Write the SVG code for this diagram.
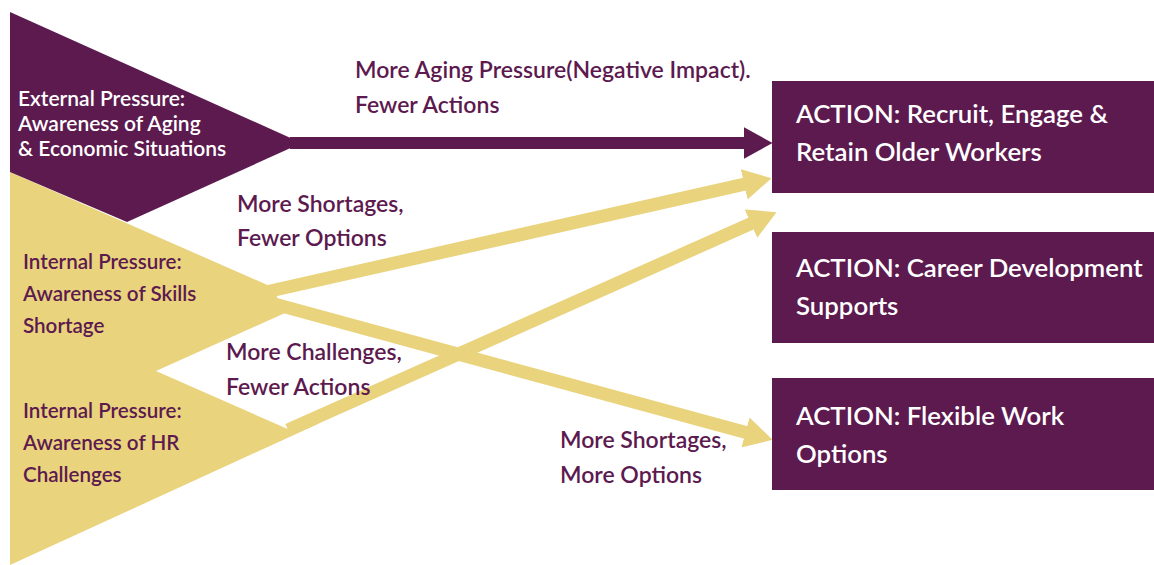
<svg xmlns="http://www.w3.org/2000/svg" width="1154" height="565" viewBox="0 0 1154 565">
<style>
.box{fill:#5C1A4F}
.pur{fill:#5C1A4F}
.yel{fill:#E9D37D}
.t{font-family:Lato,"Liberation Sans",sans-serif;font-weight:600}
.wt{fill:#FFFFFF;font-size:21px}
.pt{fill:#5C1A4F;font-size:20.6px}
.lbl{fill:#5C1A4F;font-size:23px}
.bt{fill:#FFFFFF;font-size:25.8px}
.ly{stroke:#E9D37D;stroke-width:13;fill:none}
.lp{stroke:#5C1A4F;stroke-width:12;fill:none}
</style>
<defs>
<marker id="ahp" markerUnits="userSpaceOnUse" viewBox="0 0 29 32" markerWidth="29" markerHeight="32" refX="0.5" refY="16" orient="auto">
<path d="M0,0 L29,16 L0,32 z" fill="#5C1A4F"/>
</marker>
<marker id="ahy" markerUnits="userSpaceOnUse" viewBox="0 0 28 31" markerWidth="28" markerHeight="31" refX="0.5" refY="15.5" orient="auto">
<path d="M0,0 L28,15.5 L0,31 z" fill="#E9D37D"/>
</marker>
</defs>

<g id="internal-pressures">
<polygon class="yel" points="10,172 272,287 285,313 156,371 290,430 320,423 10,565"/>
<text class="t pt" x="23" y="269">Internal Pressure:</text>
<text class="t pt" x="23" y="301">Awareness of Skills</text>
<text class="t pt" x="23" y="333">Shortage</text>
<text class="t pt" x="23" y="418">Internal Pressure:</text>
<text class="t pt" x="23" y="450">Awareness of HR</text>
<text class="t pt" x="23" y="482">Challenges</text>
</g>

<g id="external-pressure">
<polygon class="pur" points="10,12 295,140 295,146 127,222 10,172"/>
<text class="t wt" x="18" y="106">External Pressure:</text>
<text class="t wt" x="18" y="131">Awareness of Aging</text>
<text class="t wt" x="18" y="156">&amp; Economic Situations</text>
</g>

<g id="connectors">
<line class="lp" x1="290" y1="143" x2="744" y2="143" marker-end="url(#ahp)"/>
<line class="ly" x1="268" y1="291.5" x2="744.7" y2="184.2" marker-end="url(#ahy)"/>
<line class="ly" x1="288" y1="430" x2="751.4" y2="223.4" marker-end="url(#ahy)"/>
<line class="ly" x1="268" y1="302.3" x2="746" y2="432.6" marker-end="url(#ahy)"/>
<text class="t lbl" x="355" y="78">More Aging Pressure(Negative Impact).</text>
<text class="t lbl" x="355" y="113">Fewer Actions</text>
<text class="t lbl" x="237" y="212">More Shortages,</text>
<text class="t lbl" x="237" y="246">Fewer Options</text>
<text class="t lbl" x="226" y="360">More Challenges,</text>
<text class="t lbl" x="226" y="395">Fewer Actions</text>
<text class="t lbl" x="560" y="448">More Shortages,</text>
<text class="t lbl" x="560" y="483">More Options</text>
</g>

<g id="action-recruit">
<rect class="box" x="772" y="81" width="382" height="112"/>
<text class="t bt" x="796" y="123">ACTION: Recruit, Engage &amp;</text>
<text class="t bt" x="796" y="161">Retain Older Workers</text>
</g>

<g id="action-career">
<rect class="box" x="772" y="232" width="382" height="111"/>
<text class="t bt" x="796" y="277">ACTION: Career Development</text>
<text class="t bt" x="796" y="315">Supports</text>
</g>

<g id="action-flexible">
<rect class="box" x="772" y="378" width="382" height="112"/>
<text class="t bt" x="796" y="425">ACTION: Flexible Work</text>
<text class="t bt" x="796" y="463">Options</text>
</g>
</svg>
